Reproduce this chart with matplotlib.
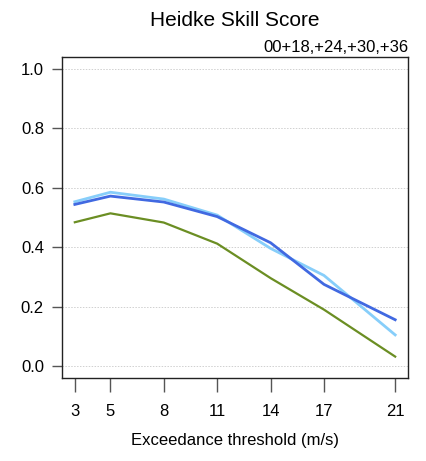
import matplotlib
matplotlib.use("Agg")
import matplotlib.pyplot as plt

thresholds = [3, 5, 8, 11, 14, 17, 21]
series_light = [0.553, 0.585, 0.562, 0.508, 0.396, 0.305, 0.105]
series_blue = [0.544, 0.572, 0.552, 0.503, 0.415, 0.275, 0.156]
series_green = [0.484, 0.514, 0.483, 0.412, 0.296, 0.190, 0.032]
yticks = [0.0, 0.2, 0.4, 0.6, 0.8, 1.0]
title = "Heidke Skill Score"
subtitle = "00+18,+24,+30,+36"
xlabel = "Exceedance threshold (m/s)"

plt.rcParams['font.family'] = ['Liberation Sans', 'DejaVu Sans']

fig = plt.figure(figsize=(4.26, 4.61), dpi=100)
ax = fig.add_axes([62/426, 1 - 378/461, (408-62)/426, (378-57)/461])

for yv in yticks:
    ax.axhline(yv, color='#d0d0d0', lw=0.7, ls=(0, (1.5, 1.5)), zorder=0)

ax.plot(thresholds, series_light, color='#87CEFA', lw=2.0)
ax.plot(thresholds, series_blue, color='#4169E1', lw=2.0)
ax.plot(thresholds, series_green, color='#6B8E23', lw=1.6)

ax.set_xlim(2.28, 21.72)
ax.set_ylim(-0.04, 1.04)
ax.set_xticks(thresholds)
ax.set_xticklabels([str(t) for t in thresholds])
ax.set_yticks(yticks)
ax.set_yticklabels([f"{v:.1f}" for v in yticks])

for s in ax.spines.values():
    s.set_color('#222222')
    s.set_linewidth(1.0)
ax.tick_params(axis='y', direction='out', length=7, width=1.0, color='#555555', labelsize=12, pad=6)
ax.tick_params(axis='x', direction='out', length=10, width=1.0, color='#555555', labelsize=12, pad=9)

fig.text(235/426, 1 - 20/461, title, ha='center', va='center', fontsize=15)
fig.text(408/426, 1 - 47/461, subtitle, ha='right', va='center', fontsize=12)
fig.text(235/426, 1 - 440/461, xlabel, ha='center', va='center', fontsize=12)

fig.savefig("out.png", dpi=100)
